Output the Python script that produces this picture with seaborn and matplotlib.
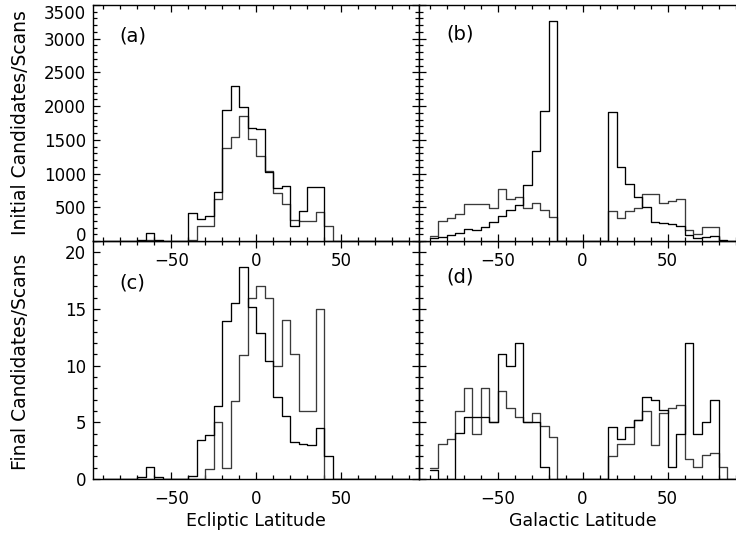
import numpy as np
import pandas as pd
import matplotlib

matplotlib.use("Agg")
import matplotlib.pyplot as plt
from matplotlib.ticker import MultipleLocator
import seaborn as sns

# ------------------------------------------------------------------------------ #
# data: counts in 5 deg bins, left edges -90, -85, ..., 85
# ------------------------------------------------------------------------------ #

lat_edges = np.arange(-90, 91, 5)
lat_centers = lat_edges[:-1] + 2.5

# (a) initial candidates/scans, ecliptic latitude
ecl_init_1 = [0, 0, 0, 0, 15, 115, 15, 0, 0, 0,
              410, 321, 376, 722, 1944, 2300, 1993, 1672, 1657, 1029,
              781, 821, 228, 445, 796, 796, 0, 0, 0, 0,
              0, 0, 0, 0, 0, 0]
ecl_init_2 = [0, 0, 0, 0, 0, 10, 0, 0, 0, 0,
              20, 228, 228, 623, 1375, 1538, 1855, 1513, 1266, 1039,
              707, 544, 312, 302, 302, 435, 228, 0, 0, 0,
              0, 0, 0, 0, 0, 0]

# (b) initial candidates/scans, galactic latitude
gal_init_1 = [40, 54, 89, 124, 173, 158, 203, 277, 376, 455,
              534, 831, 1340, 1929, 3269, 0, 0, 0, 0, 0,
              0, 1919, 1093, 841, 658, 509, 287, 262, 252, 223,
              89, 49, 54, 74, 15, 0]
gal_init_2 = [74, 297, 336, 400, 544, 544, 544, 485, 777, 623,
              648, 485, 569, 460, 356, 0, 0, 0, 0, 0,
              0, 445, 336, 445, 485, 702, 692, 559, 598, 628,
              163, 99, 203, 213, 0, 0]

# (c) final candidates/scans, ecliptic latitude
ecl_final_1 = [0, 0, 0, 0, 0.2, 1.1, 0.2, 0, 0, 0,
               0.3, 3.4, 3.9, 6.4, 13.9, 15.5, 18.7, 15.2, 12.9, 10.4,
               7.2, 5.6, 3.3, 3.1, 3.0, 4.5, 2.0, 0, 0, 0,
               0, 0, 0, 0, 0, 0]
ecl_final_2 = [0, 0, 0, 0, 0, 0, 0, 0, 0, 0,
               0, 0, 0.9, 5.0, 1.0, 6.9, 10.9, 16.0, 17.0, 16.0,
               10.0, 14.0, 11.0, 6.0, 6.0, 15.0, 0, 0, 0, 0,
               0, 0, 0, 0, 0, 0]

# (d) final candidates/scans, galactic latitude
gal_final_1 = [0.8, 0, 0, 4.1, 5.5, 5.5, 5.5, 5.0, 11.0, 10.0,
               12.0, 5.0, 5.0, 1.1, 0, 0, 0, 0, 0, 0,
               0, 4.6, 3.5, 4.6, 5.2, 7.2, 7.0, 6.1, 1.1, 4.0,
               12.0, 4.0, 5.0, 7.0, 0, 0]
gal_final_2 = [1.0, 3.1, 3.5, 6.0, 8.0, 4.0, 8.0, 5.0, 7.8, 6.3,
               5.5, 5.0, 5.8, 4.7, 3.7, 0, 0, 0, 0, 0,
               0, 2.0, 3.1, 3.1, 5.2, 6.0, 3.0, 5.8, 6.3, 6.5,
               1.8, 1.1, 2.1, 2.3, 1.1, 0]

init_yticks = np.arange(0, 3501, 500)
final_yticks = np.arange(0, 21, 5)

# ------------------------------------------------------------------------------ #
# style
# ------------------------------------------------------------------------------ #

sns.set_style("ticks")
plt.rcParams.update({
    "font.family": ["DejaVu Sans"],
    "font.size": 12,
    "text.color": "black",
    "axes.labelcolor": "black",
    "axes.edgecolor": "black",
    "axes.linewidth": 1.0,
    "xtick.color": "black",
    "ytick.color": "black",
    "xtick.labelcolor": "black",
    "ytick.labelcolor": "black",
    "xtick.direction": "in",
    "ytick.direction": "in",
    "xtick.top": True,
    "ytick.right": True,
    "xtick.major.size": 4.8,
    "ytick.major.size": 4.8,
    "xtick.minor.size": 2.9,
    "ytick.minor.size": 2.9,
    "xtick.major.width": 0.9,
    "ytick.major.width": 0.9,
    "xtick.minor.width": 0.9,
    "ytick.minor.width": 0.9,
    "xtick.major.pad": 8,
    "ytick.major.pad": 5,
    "xtick.labelsize": 12,
    "ytick.labelsize": 12,
})

fig = plt.figure(figsize=(7.36, 5.37), dpi=100)
W, H = 736.0, 537.0


def px_axes(x0, y0, x1, y1):
    # axes from pixel box (top-left origin); right column runs off the figure
    return fig.add_axes([x0 / W, 1 - y1 / H, (x1 - x0) / W, (y1 - y0) / H])


def step_hist(ax, counts, color):
    df = pd.DataFrame({"lat": lat_centers, "n": np.asarray(counts, float)})
    # binwidth/binrange instead of an edge array (seaborn chokes on
    # bins=array together with weights)
    sns.histplot(data=df, x="lat", weights="n", binwidth=5,
                 binrange=(lat_edges[0], lat_edges[-1]), element="step",
                 fill=False, color=color, linewidth=0.95, ax=ax)


ax_c = px_axes(93, 241, 419.4, 479)
ax_d = px_axes(419.4, 241, 745.8, 479)
ax_a = px_axes(93, 5, 419.4, 241)
ax_b = px_axes(419.4, 5, 745.8, 241)

# upper panels on top so their x tick labels show inside (c) and (d)
for ax in (ax_a, ax_b):
    ax.set_zorder(3)
for ax in (ax_c, ax_d):
    ax.patch.set_visible(False)

panels = [
    (ax_a, ecl_init_1, ecl_init_2, "(a)", (0.080, 0.870)),
    (ax_b, gal_init_1, gal_init_2, "(b)", (0.082, 0.878)),
    (ax_c, ecl_final_1, ecl_final_2, "(c)", (0.080, 0.822)),
    (ax_d, gal_final_1, gal_final_2, "(d)", (0.082, 0.847)),
]

for ax, s1, s2, tag, pos in panels:
    step_hist(ax, s2, "#3a3a3a")
    step_hist(ax, s1, "black")
    ax.set_xlim(-96, 96)
    ax.xaxis.set_major_locator(MultipleLocator(50))
    ax.xaxis.set_minor_locator(MultipleLocator(10))
    ax.set_xlabel("")
    ax.set_ylabel("")
    ax.text(pos[0], pos[1], tag, transform=ax.transAxes, fontsize=14,
            ha="left", va="center")

for ax in (ax_a, ax_b):
    ax.set_ylim(0, 3500)
    ax.set_yticks(init_yticks)
    ax.yaxis.set_minor_locator(MultipleLocator(100))

for ax in (ax_c, ax_d):
    ax.set_ylim(0, 21)
    ax.set_yticks(final_yticks)
    ax.yaxis.set_minor_locator(MultipleLocator(1))

for ax in (ax_a, ax_b, ax_c, ax_d):
    ax.tick_params(which="both", direction="in", top=True, right=True,
                   bottom=True, left=True, color="black")
    for sp in ax.spines.values():
        sp.set_visible(True)

for ax in (ax_b, ax_d):
    ax.tick_params(labelleft=False)

# keep end labels of (a) inside the panel
yt = ax_a.yaxis.get_major_ticks()
yt[0].label1.set_va("baseline")
yt[-1].label1.set_va("top")

fig.text(21 / W, 1 - 123 / H, "Initial Candidates/Scans", rotation=90,
         ha="center", va="center", fontsize=13.5)
fig.text(21 / W, 1 - 362 / H, "Final Candidates/Scans", rotation=90,
         ha="center", va="center", fontsize=13.5)
fig.text(256 / W, 1 - 521 / H, "Ecliptic Latitude", ha="center",
         va="center", fontsize=12.5)
fig.text(583 / W, 1 - 521 / H, "Galactic Latitude", ha="center",
         va="center", fontsize=12.5)

fig.savefig("out.png", dpi=100)
